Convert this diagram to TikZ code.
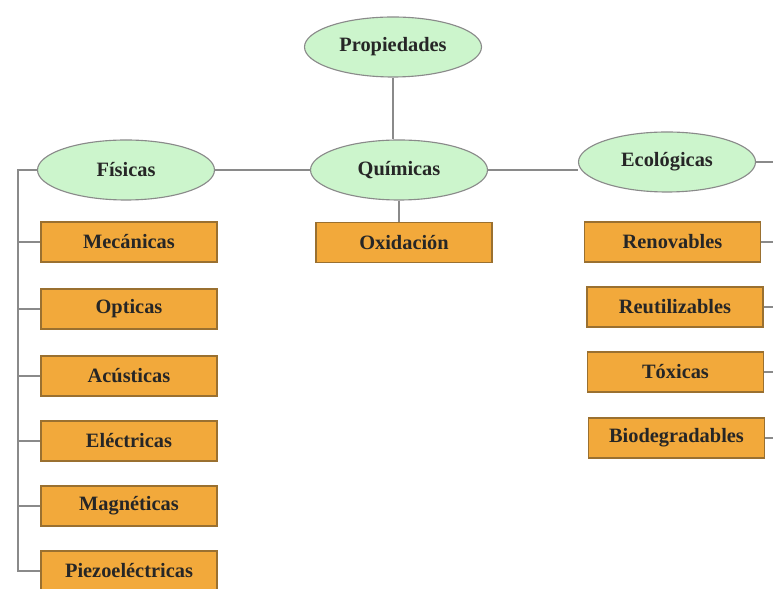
\documentclass[tikz,border=0pt]{standalone}
\usepackage{fontspec}
\setmainfont{Liberation Serif}
\usetikzlibrary{shapes.geometric}
\definecolor{leafgreen}{HTML}{CCF5CC}
\definecolor{boxorange}{HTML}{F2A93B}
\definecolor{boxedge}{HTML}{9A7030}
\definecolor{wiregray}{HTML}{8A8A8A}
\begin{document}
\begin{tikzpicture}[
		group/.style={shape=ellipse, draw=wiregray, line width=0.8pt, fill=leafgreen, minimum width=4.425cm, minimum height=1.5cm, inner sep=0pt, font=\fontsize{14.5}{17}\selectfont\bfseries, text=black!85},
		item/.style={shape=rectangle, draw=boxedge, line width=0.8pt, fill=boxorange, minimum width=4.4cm, minimum height=1cm, inner sep=0pt, font=\fontsize{14.5}{17}\selectfont\bfseries, text=black!85},
		wire/.style={draw=wiregray, line width=1pt}]
		\useasboundingbox (0,0) rectangle (19.325,14.7);
		% Paths, nodes and wires:
		\node[group] (prop) at (9.825, 13.525){Propiedades};
		\node[group] (fis) at (3.15, 10.45){Físicas};
		\node[group] (qui) at (9.975, 10.45){Químicas};
		\node[group] (eco) at (16.675, 10.65){Ecológicas};
		\node[item] (mec) at (3.225, 8.65){Mecánicas};
		\node[item] (opt) at (3.225, 6.975){Opticas};
		\node[item] (acu) at (3.225, 5.3){Acústicas};
		\node[item] (ele) at (3.225, 3.675){Eléctricas};
		\node[item] (mag) at (3.225, 2.05){Magnéticas};
		\node[item] (pie) at (3.225, 0.425){Piezoeléctricas};
		\node[item] (oxi) at (10.1, 8.6375){Oxidación};
		\node[item] (ren) at (16.8125, 8.65){Renovables};
		\node[item] (reu) at (16.875, 7.025){Reutilizables};
		\node[item] (tox) at (16.8875, 5.4){Tóxicas};
		\node[item] (bio) at (16.9125, 3.75){Biodegradables};
		\coordinate (fisbus) at (0.45, 10.45);
		\coordinate (ecoend) at (19.325, 10.625);
		\coordinate (rightbus) at (19.325, 8.65);
		\draw[wire] (prop.south) -- (prop.south |- qui.north);
		\draw[wire] (fis.east) -- (qui.west);
		\draw[wire] (qui.east) -- (qui.east -| eco.west);
		\draw[wire] (eco.east) -- (eco.east -| ecoend);
		\draw[wire] (qui.south) -- (qui.south |- oxi.north);
		\draw[wire] (fis.west) -- (fisbus) -- (fisbus |- pie.west) -- (pie.west);
		\foreach \leaf in {mec, opt, acu, ele, mag}
			\draw[wire] (fisbus |- \leaf.west) -- (\leaf.west);
		\foreach \leaf in {ren, reu, tox, bio}
			\draw[wire] (\leaf.east) -- (\leaf.east -| rightbus);
	\end{tikzpicture}
\end{document}
